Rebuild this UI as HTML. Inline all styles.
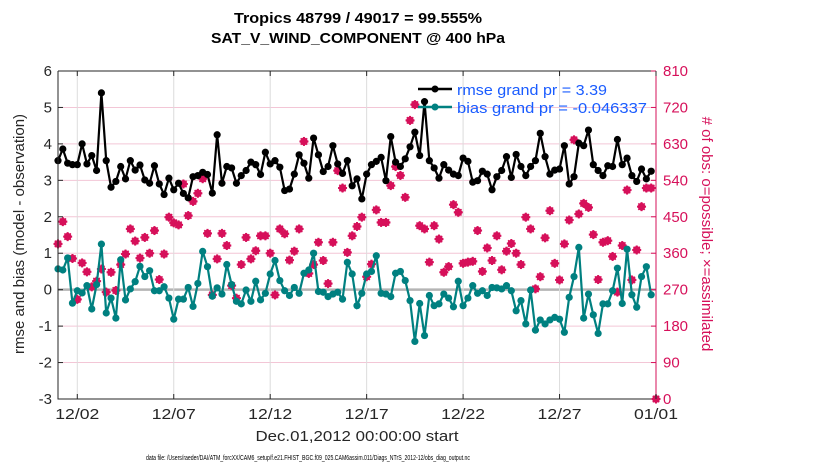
<!DOCTYPE html>
<html><head><meta charset="utf-8"><style>
html,body{margin:0;padding:0;background:#fff;}
svg{display:block;font-family:"Liberation Sans",sans-serif;}
</style></head><body>
<svg id="chart" width="830" height="470" viewBox="0 0 830 470" xmlns="http://www.w3.org/2000/svg">
<rect x="0" y="0" width="830" height="470" fill="#fff"/>
<g id="grid"></g>
<g id="series"></g>
<g id="axes"></g>
<text x="358" y="23" text-anchor="middle" font-weight="bold" font-size="15" textLength="248" lengthAdjust="spacingAndGlyphs">Tropics 48799 / 49017 = 99.555%</text>
<text x="358" y="43" text-anchor="middle" font-weight="bold" font-size="15" textLength="294" lengthAdjust="spacingAndGlyphs">SAT_V_WIND_COMPONENT @ 400 hPa</text>
<text transform="translate(24,234) rotate(-90)" text-anchor="middle" font-size="15" fill="#262626">rmse and bias (model - observation)</text>
<text transform="translate(702,234) rotate(90)" text-anchor="middle" font-size="15" fill="#d6105a"># of obs: o=possible; ×=assimilated</text>
<text x="357" y="441" text-anchor="middle" font-size="15" fill="#262626" textLength="203" lengthAdjust="spacingAndGlyphs">Dec.01,2012 00:00:00 start</text>
<text x="146" y="460" font-size="7" fill="#000" textLength="324" lengthAdjust="spacingAndGlyphs">data file: /Users/raeder/DAI/ATM_forcXX/CAM6_setup/f.e21.FHIST_BGC.f09_025.CAM6assim.011/Diags_NTrS_2012-12/obs_diag_output.nc</text>
<g>
<line x1="418" y1="89" x2="452" y2="89" stroke="#000" stroke-width="2.5"/>
<circle cx="435" cy="89" r="3.5" fill="#000"/>
<text x="457" y="95" font-size="15" fill="#1a5cff" textLength="150" lengthAdjust="spacingAndGlyphs">rmse grand pr = 3.39</text>
<line x1="418" y1="107" x2="452" y2="107" stroke="#008080" stroke-width="2.5"/>
<circle cx="435" cy="107" r="3.5" fill="#008080"/>
<text x="457" y="113" font-size="15" fill="#1a5cff" textLength="190" lengthAdjust="spacingAndGlyphs">bias grand pr = -0.046337</text>
</g>
</svg>
<script>
const rmse=[3.54,3.86,3.47,3.43,3.43,4.0,3.45,3.68,3.27,5.4,3.54,2.81,2.97,3.38,3.04,3.54,3.28,3.42,3.01,2.92,3.40,2.90,2.61,3.06,2.74,2.92,2.64,2.52,3.10,3.13,3.22,3.16,2.65,4.25,2.92,3.38,3.34,2.92,3.13,3.27,3.50,3.43,3.16,3.77,3.45,3.54,3.36,2.72,2.76,3.17,3.70,3.47,3.06,4.16,3.70,3.24,3.38,3.95,3.45,3.19,3.54,2.85,3.04,2.49,3.17,3.43,3.52,3.63,2.99,4.20,3.50,3.38,3.59,3.92,4.32,3.68,5.16,3.54,3.34,3.06,3.43,3.28,3.17,3.13,3.61,3.52,2.95,2.99,3.25,3.17,2.74,3.10,3.27,3.65,3.08,3.71,3.38,3.13,3.38,3.54,4.29,3.65,3.17,3.28,3.31,3.95,2.90,3.10,4.02,3.95,4.38,3.43,3.27,3.13,3.40,3.38,4.12,3.43,3.61,3.13,2.97,3.31,3.04,3.25];
const bias=[0.57,0.54,0.87,-0.37,-0.03,-0.09,0.11,-0.53,0.14,1.25,-0.64,-0.23,-0.78,0.82,-0.28,0.02,0.22,0.64,0.36,0.52,-0.03,-0.03,0.08,-0.23,-0.81,-0.26,-0.26,0.06,-0.46,0.17,1.05,0.63,-0.18,0.05,-0.12,0.69,0.14,-0.32,-0.39,-0.01,-0.32,0.23,-0.28,-0.10,0.43,0.80,0.25,-0.03,-0.16,0.06,-0.10,0.45,0.54,1.0,-0.05,-0.07,-0.19,-0.12,-0.07,-0.26,0.75,0.43,-0.44,-0.10,0.43,0.50,0.93,-0.10,-0.12,-0.19,0.45,0.50,0.25,-0.30,-1.42,-0.38,-1.26,-0.16,-0.44,-0.39,-0.12,-0.23,-0.47,0.23,-0.44,-0.23,0.11,-0.10,-0.03,-0.16,0.06,0.05,0.02,0.11,-0.03,-0.58,-0.30,-0.94,-0.01,-1.11,-0.83,-0.94,-0.83,-0.76,-0.81,-1.17,-0.21,0.36,1.16,-0.78,-0.12,-0.69,-1.20,-0.39,-0.39,-0.03,0.59,-0.38,1.11,-0.14,-0.48,0.36,0.63,-0.14];
const obsCount=[383,438,401,347,246,336,314,277,291,321,264,313,268,332,358,420,390,348,399,360,416,295,358,449,435,430,531,453,488,508,544,409,257,346,409,379,280,249,332,399,346,366,403,403,360,257,420,408,343,365,420,636,310,332,387,342,285,387,564,521,362,403,426,449,302,333,467,436,436,527,574,552,498,688,727,428,420,338,428,395,313,327,480,461,335,338,340,416,315,373,342,403,319,365,384,360,332,449,420,272,302,398,465,335,294,383,442,640,457,483,473,406,295,387,391,352,264,379,516,294,368,475,521,521,0];
const yTicks=[-3,-2,-1,0,1,2,3,4,5,6];
const y2Ticks=[0,90,180,270,360,450,540,630,720,810];
const xTickDays=[1,6,11,16,21,26,31];
const xTickLabels=['12/02','12/07','12/12','12/17','12/22','12/27','01/01'];
const stepDays=0.25;

const L=58,R=656,T=71,B=399;
const xs=d=>L+(d/31)*(R-L);
const ys=v=>B-(v+3)/9*(B-T);
const ys2=c=>B-c/810*(B-T);
const NS='http://www.w3.org/2000/svg';
function mk(tag,attrs,parent){const e=document.createElementNS(NS,tag);for(const k in attrs)e.setAttribute(k,attrs[k]);parent.appendChild(e);return e;}
const grid=document.getElementById('grid'),series=document.getElementById('series'),axes=document.getElementById('axes');
const PINK='#d6105a';

yTicks.forEach(v=>{if(v===-3||v===6)return;const y=ys(v);
 const l=mk('line',{x1:L,x2:R,y1:y,y2:y,stroke:v===0?'#b4b4b4':'#f3c6d6','stroke-width':v===0?2.5:1},grid);
 
 });
xTickDays.forEach(d=>{const x=xs(d);if(d===31)return;
 const l=mk('line',{x1:x,x2:x,y1:T,y2:B,stroke:'#dcdcdc','stroke-width':1},grid);
 
 });

obsCount.forEach((c,i)=>{const x=xs(i*stepDays),y=ys2(c);
 const g=mk('g',{stroke:PINK,'stroke-width':2,fill:'none'},series);
 
 
 mk('circle',{cx:x,cy:y,r:2.8,fill:PINK},g);
 mk('line',{x1:x-4.5,x2:x+4.5,y1:y,y2:y},g);
 mk('line',{x1:x,x2:x,y1:y-4.5,y2:y+4.5},g);
 mk('line',{x1:x-3.2,x2:x+3.2,y1:y-3.2,y2:y+3.2,'stroke-width':1.5},g);
 mk('line',{x1:x-3.2,x2:x+3.2,y1:y+3.2,y2:y-3.2,'stroke-width':1.5},g);
});
function drawLine(arr,col,name){
 const p=mk('polyline',{points:arr.map((v,i)=>xs(i*stepDays)+','+ys(v)).join(' '),fill:'none',stroke:col,'stroke-width':2.2},series);
 
 
 arr.forEach((v,i)=>{const c=mk('circle',{cx:xs(i*stepDays),cy:ys(v),r:3.6,fill:col},series);
  
  });
}
drawLine(bias,'#008080','bias');
drawLine(rmse,'#000000','rmse');

const ax=mk('path',{d:`M${L},${T}H${R}M${L},${T}V${B}H${R}`,fill:'none',stroke:'#262626','stroke-width':1},axes);


const rax=mk('line',{x1:R,x2:R,y1:T,y2:B,stroke:PINK,'stroke-width':1},axes);


yTicks.forEach(v=>{const y=ys(v);
 mk('line',{x1:L,x2:L+5,y1:y,y2:y,stroke:'#262626'},axes);
 const t=mk('text',{x:L-6,y:y+5,'text-anchor':'end','font-size':15,fill:'#262626'},axes);
 t.textContent=String(v);
 
 });
y2Ticks.forEach(c=>{const y=ys2(c);
 mk('line',{x1:R-5,x2:R,y1:y,y2:y,stroke:PINK},axes);
 const t=mk('text',{x:R+7,y:y+5,'font-size':15,fill:PINK},axes);
 t.textContent=String(c);
 
 });
xTickDays.forEach((d,i)=>{const x=xs(d);
 mk('line',{x1:x,x2:x,y1:B,y2:B-5,stroke:'#262626'},axes);
 mk('line',{x1:x,x2:x,y1:T,y2:T+5,stroke:'#262626'},axes);
 const t=mk('text',{x:x,y:B+20,'text-anchor':'middle','font-size':15,fill:'#262626',textLength:44,lengthAdjust:'spacingAndGlyphs'},axes);
 t.textContent=xTickLabels[i];
 
 });
</script>
</body></html>
